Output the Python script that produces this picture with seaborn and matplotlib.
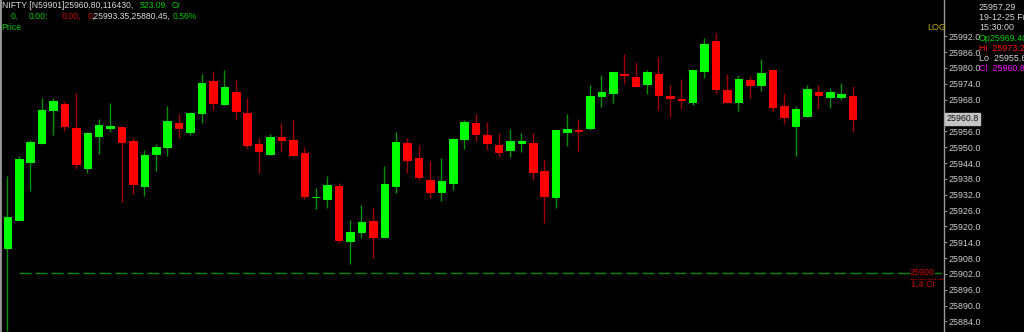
import numpy as np
import pandas as pd
import matplotlib
matplotlib.use("Agg")
import matplotlib.pyplot as plt
import seaborn as sns

# ---------------- data ----------------
opens = [
    25911.7, 25922.5, 25944.3, 25951.5, 25964.2, 25966.4, 25957.3, 25942.2, 25954.3, 25957.3,
    25957.5, 25952.3, 25935.3, 25947.4, 25950.0, 25959.2, 25955.6, 25962.9, 25975.2, 25966.2,
    25971.0, 25962.8, 25951.1, 25947.3, 25953.7, 25952.7, 25947.7, 25931.0, 25930.3, 25935.4,
    25914.6, 25918.0, 25921.9, 25916.1, 25935.2, 25951.6, 25946.0, 25937.7, 25932.9, 25936.4,
    25953.0, 25959.0, 25954.7, 25950.8, 25948.9, 25951.7, 25951.6, 25941.0, 25931.2, 25955.6,
    25956.6, 25957.4, 25969.3, 25970.6, 25977.8, 25976.7, 25974.0, 25977.6, 25969.4, 25968.3,
    25967.2, 25978.9, 25990.1, 25971.8, 25967.2, 25975.6, 25973.7, 25979.1, 25965.6, 25958.1,
    25961.8, 25971.0, 25969.0, 25969.0, 25969.40]
highs = [
    25939.2, 25946.7, 25952.6, 25968.6, 25968.5, 25967.6, 25970.6, 25955.7, 25960.7, 25966.6,
    25957.7, 25953.4, 25948.8, 25951.1, 25965.6, 25962.6, 25963.3, 25977.8, 25978.4, 25979.2,
    25975.4, 25968.6, 25953.6, 25955.0, 25959.2, 25960.4, 25950.0, 25934.5, 25939.1, 25936.3,
    25922.4, 25928.2, 25926.8, 25942.9, 25955.9, 25953.6, 25950.8, 25944.8, 25945.8, 25953.3,
    25960.3, 25962.6, 25959.5, 25955.5, 25956.9, 25955.3, 25955.3, 25945.4, 25956.6, 25962.6,
    25960.6, 25973.7, 25977.3, 25978.6, 25985.3, 25982.2, 25979.3, 25984.0, 25973.6, 25975.7,
    25979.3, 25991.2, 25993.35, 25977.7, 25977.3, 25977.0, 25983.3, 25979.3, 25970.5, 25965.6,
    25973.7, 25973.4, 25972.4, 25974.4, 25973.20]
lows = [
    25880.45, 25922.3, 25933.5, 25951.3, 25954.7, 25956.2, 25941.8, 25940.3, 25947.4, 25955.9,
    25929.3, 25932.3, 25931.6, 25941.1, 25946.5, 25953.6, 25954.6, 25959.0, 25964.1, 25966.0,
    25960.7, 25949.2, 25940.1, 25947.1, 25948.3, 25946.8, 25930.5, 25926.6, 25926.8, 25913.8,
    25905.9, 25915.5, 25908.0, 25915.9, 25932.6, 25940.1, 25937.6, 25930.6, 25929.6, 25933.8,
    25949.3, 25952.5, 25948.9, 25946.4, 25946.4, 25948.3, 25937.6, 25921.2, 25927.1, 25950.4,
    25948.7, 25956.5, 25965.3, 25966.8, 25973.9, 25972.9, 25970.1, 25964.1, 25961.5, 25964.3,
    25966.0, 25976.3, 25970.0, 25966.6, 25963.8, 25968.7, 25971.3, 25963.6, 25958.9, 25946.7,
    25961.6, 25964.3, 25964.7, 25968.0, 25955.60]
closes = [
    25923.4, 25945.5, 25952.0, 25964.1, 25967.4, 25958.0, 25943.5, 25955.5, 25958.5, 25958.0,
    25952.1, 25936.1, 25946.9, 25950.1, 25959.9, 25957.3, 25963.1, 25974.4, 25966.6, 25972.7,
    25963.7, 25950.7, 25948.7, 25953.7, 25952.8, 25947.0, 25931.6, 25931.2, 25935.6, 25914.7,
    25917.9, 25921.7, 25915.9, 25935.9, 25952.0, 25945.0, 25938.6, 25933.1, 25937.2, 25953.1,
    25959.5, 25955.1, 25951.5, 25948.1, 25952.3, 25952.5, 25940.7, 25931.6, 25956.4, 25956.9,
    25956.1, 25969.3, 25971.0, 25978.4, 25977.5, 25973.3, 25978.4, 25969.8, 25968.6, 25967.8,
    25979.1, 25989.2, 25971.9, 25967.2, 25975.7, 25973.7, 25978.1, 25965.1, 25961.5, 25964.3,
    25971.9, 25969.9, 25970.8, 25970.3, 25960.80]

y_ticks = [25884, 25890, 25896, 25902, 25908, 25914, 25920, 25926, 25932, 25938, 25944,
           25950, 25956, 25962, 25968, 25974, 25980, 25986, 25992]
level_price = 25902.5
level_label = "25900"
level_volume = "1.4 Cr"
last_close_label = "25960.8"

header_line1 = "NIFTY [N59901]25960.80,116430,"
header_turnover = "523.09"
info_ltp = "25957.29"
info_date = "19-12-25 Fri"
info_time = "15:30:00"
info_op = "25969.40"
info_hi = "25973.20"
info_lo = "25955.60"
info_cl = "25960.80"

df = pd.DataFrame({"open": opens, "high": highs, "low": lows, "close": closes})
df["idx"] = np.arange(len(df))
df["up"] = df["close"] >= df["open"]

# ---------------- style ----------------
sns.set_theme(style="dark", rc={"axes.facecolor": "black", "figure.facecolor": "black",
                                "savefig.facecolor": "black"})
plt.rcParams["font.family"] = ["Liberation Sans", "DejaVu Sans"]

W, H = 1024, 332
fig = plt.figure(figsize=(W / 100, H / 100), dpi=100)
ax = fig.add_axes([0, 0, 944 / W, 1])
ax.set_facecolor("black")

GREEN_BODY = "#00ff00"
RED_BODY = "#ff0000"
GREEN_WICK = "#009000"
RED_WICK = "#a00000"

body_col = np.where(df["up"], GREEN_BODY, RED_BODY)
wick_col = np.where(df["up"], GREEN_WICK, RED_WICK)

ax.vlines(df["idx"], df["low"], df["high"], colors=wick_col, linewidth=1.0, zorder=2)
bottoms = np.minimum(df["open"], df["close"])
heights = np.abs(df["close"] - df["open"])
ax.bar(df["idx"], heights, bottom=bottoms, width=0.66, color=body_col,
       edgecolor=body_col, linewidth=0.7, zorder=3)

ax.set_xlim(-0.64, 82.0)
ax.set_ylim(25880.0, 26005.75)

# level line
ax.axhline(level_price, xmin=19 / 944, xmax=1.0, color="#008a00", linewidth=1.0,
           dashes=(8.6, 2.9), zorder=1)

# axis styling
ax.yaxis.tick_right()
ax.set_yticks(y_ticks)
ax.set_yticklabels([f"{v:.1f}" for v in y_ticks])
ax.tick_params(axis="y", colors="#8a8a8a", length=2.5, width=0.8, pad=1.0,
               labelsize=6.4, labelcolor="#d0d0d0", direction="out")
ax.set_xticks([])
ax.grid(False)
for s in ["top", "bottom"]:
    ax.spines[s].set_visible(False)
ax.spines["right"].set_color("#9a9a9a")
ax.spines["right"].set_linewidth(1.0)
ax.spines["left"].set_color("#9a9a9a")
ax.spines["left"].set_linewidth(2.0)

# last close box
ax.annotate(last_close_label, xy=(1.0, closes[-1]), xycoords=("axes fraction", "data"),
            xytext=(2.0, 0), textcoords="offset points", va="center", ha="left",
            fontsize=6.4, color="#101010", zorder=10, annotation_clip=False,
            bbox=dict(boxstyle="square,pad=0.15", fc="#c4c4c4", ec="#c4c4c4"))

# level labels
ax.annotate(level_label, xy=(1.0, level_price), xycoords=("axes fraction", "data"),
            xytext=(-34, 0), textcoords="offset pixels", va="center", ha="left",
            fontsize=6.4, color="#d00000", zorder=10,
            bbox=dict(boxstyle="square,pad=0.05", fc="black", ec="none"))
ax.annotate(level_volume, xy=(1.0, level_price), xycoords=("axes fraction", "data"),
            xytext=(-33, -12), textcoords="offset pixels", va="center", ha="left",
            fontsize=6.4, color="#d00000", zorder=10)
ax.plot([0.964, 1.0], [level_price - 2.4, level_price - 2.4], transform=ax.get_yaxis_transform(),
        color="#c00000", linewidth=0.8, linestyle=(0, (1, 1.2)), zorder=9, clip_on=False)

# ---------------- texts ----------------
def ftext(x, y, s, color, size=6.2, **kw):
    fig.text(x / W, 1 - y / H, s, color=color, fontsize=size, va="center", ha="left", **kw)

GRAY = "#d8d8d8"
TGREEN = "#00c800"
TRED = "#d00000"

ftext(2, 5.5, header_line1, GRAY)
ftext(140, 5.5, header_turnover, TGREEN)
ftext(172, 5.5, "Cr", TGREEN)
ftext(11, 16.5, "0,", TGREEN)
ftext(29, 16.5, "0.00:", TGREEN)
ftext(62, 16.5, "0.00,", TRED)
ftext(88, 16.5, "0", TRED)
ftext(91.5, 16.5, ",25993.35,25880.45,", GRAY)
ftext(173, 16.5, "0.56%", TGREEN)
ftext(1.5, 27, "Price", TGREEN)

ftext(927, 27.5, "LOG", "#c0a800", size=6.4)

ftext(979, 7, info_ltp, GRAY, size=6.4)
ftext(979, 17.5, info_date, GRAY, size=6.4)
ftext(979, 28, info_time, GRAY, size=6.4)
ftext(979, 38.5, "Op" + info_op, "#00d000", size=6.4)
ftext(979, 48.5, "Hi  " + info_hi, "#ff1010", size=6.4)
ftext(979, 58.5, "Lo  " + info_lo, GRAY, size=6.4)
ftext(979, 68.5, "Cl  " + info_cl, "#ff00ff", size=6.4)

fig.savefig("out.png", dpi=100, facecolor="black")
